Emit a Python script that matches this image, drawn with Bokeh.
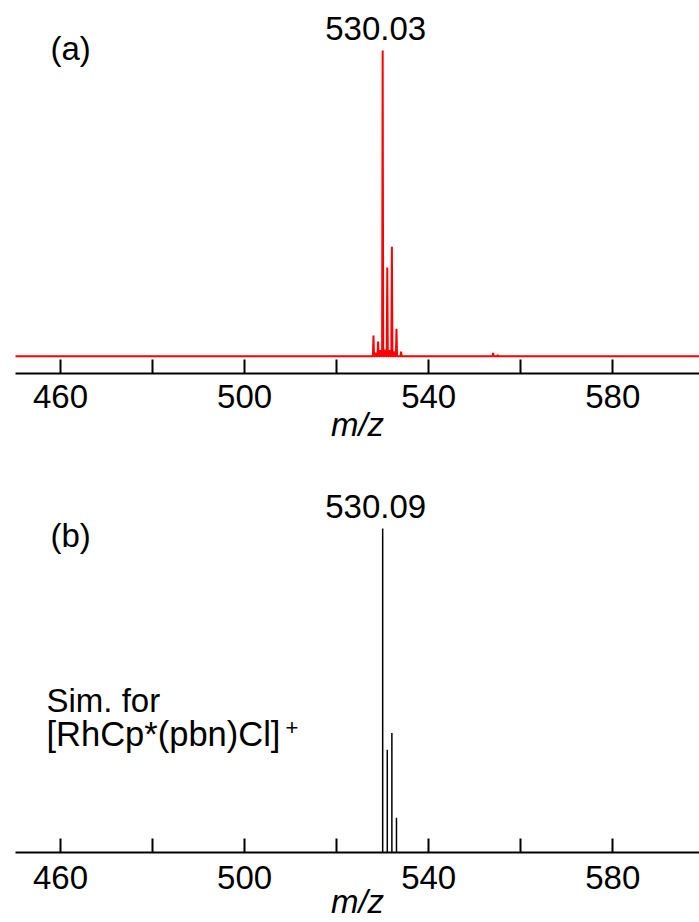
from bokeh.plotting import figure
from bokeh.layouts import column
from bokeh.models import Range1d, FixedTicker
from bokeh.core.properties import value
from bokeh.embed import file_html
from bokeh.resources import INLINE

# ---- data ----
a_mz = [528.0, 528.5, 529.0, 529.5, 530.0, 530.5, 531.0, 531.5, 532.0, 532.5, 533.0, 534.0, 554.0, 555.0]
a_int = [6.8, 1.2, 4.8, 2.0, 100.0, 2.2, 29.0, 2.0, 35.8, 1.6, 9.0, 1.5, 1.1, 0.4]
b_mz = [530.0, 531.0, 532.0, 533.0]
b_int = [100.0, 31.7, 36.9, 10.7]
a_peak_label = "530.03"
b_peak_label = "530.09"
tick_values = [460, 480, 500, 520, 540, 560, 580, 600]
tick_labels = {460: "460", 480: "", 500: "500", 520: "", 540: "540", 560: "", 580: "580", 600: "600"}
x_label = "m/z"
panel_a = "(a)"
panel_b = "(b)"
sim_lines = ["Sim. for", "[RhCp*(pbn)Cl]"]
sim_sup = "+"
mz_min, mz_max = 450.0, 600.0

FONT = value("Liberation Sans")
FS = "33px"
X_RANGE = (450.22, 598.84)


def base_fig(height, y_range, border_bottom, label_standoff, axis_standoff):
    p = figure(width=699, height=height, x_range=Range1d(*X_RANGE), y_range=Range1d(*y_range),
               toolbar_location=None, output_backend="svg", y_axis_location=None,
               min_border_left=15, min_border_right=0, min_border_top=0,
               min_border_bottom=border_bottom)
    p.outline_line_color = None
    p.grid.visible = False
    p.background_fill_color = "white"
    p.border_fill_color = "white"
    ax = p.xaxis[0]
    ax.ticker = FixedTicker(ticks=tick_values)
    ax.major_label_overrides = tick_labels
    ax.minor_tick_line_color = None
    ax.major_tick_in = 14
    ax.major_tick_out = 0
    ax.major_tick_line_width = 2
    ax.axis_line_width = 2
    ax.major_tick_line_color = "black"
    ax.axis_line_color = "black"
    ax.major_label_text_font = "Liberation Sans"
    ax.major_label_text_font_size = FS
    ax.major_label_text_color = "black"
    ax.major_label_standoff = label_standoff
    ax.axis_label = x_label
    ax.axis_label_text_font = "Liberation Sans"
    ax.axis_label_text_font_size = "33px"
    ax.axis_label_text_font_style = "italic"
    ax.axis_label_text_color = "black"
    ax.axis_label_standoff = axis_standoff
    return p


# ---- panel (a): measured profile ----
lx = [mz_min]
ly = [0.0]
for m, h in sorted(zip(a_mz, a_int)):
    lx += [m - 0.12, m, m + 0.12]
    ly += [0.0, h, 0.0]
lx.append(mz_max)
ly.append(0.0)

p1 = base_fig(461, (-5.66, 116.36), 88, 11, -5)
p1.line(lx, ly, line_color="#ff0000", line_width=2)
top_a = max(a_int)
mz_a = a_mz[a_int.index(top_a)]
p1.text(x=[mz_a], y=[top_a], text=[a_peak_label], text_font=FONT, text_font_size=FS,
        text_align="center", text_baseline="alphabetic", x_offset=-7, y_offset=-22, text_color="black")
p1.text(x=[X_RANGE[0]], y=[top_a], text=[panel_a], text_font=FONT, text_font_size=FS,
        text_align="left", text_baseline="alphabetic", x_offset=35, y_offset=-2, text_color="black")

# ---- panel (b): simulated sticks ----
p2 = base_fig(461, (0, 120.68), 70, 13, -9)
p2.segment(x0=b_mz, y0=[0] * len(b_mz), x1=b_mz, y1=b_int, line_color="black", line_width=1.5)
top_b = max(b_int)
mz_b = b_mz[b_int.index(top_b)]
p2.text(x=[mz_b], y=[top_b], text=[b_peak_label], text_font=FONT, text_font_size=FS,
        text_align="center", text_baseline="alphabetic", x_offset=-7, y_offset=-22, text_color="black")
p2.text(x=[X_RANGE[0]], y=[top_b], text=[panel_b], text_font=FONT, text_font_size=FS,
        text_align="left", text_baseline="alphabetic", x_offset=35, y_offset=7, text_color="black")
p2.text(x=[X_RANGE[0]], y=[0], text=[sim_lines[0]], text_font=FONT, text_font_size=FS,
        text_align="left", text_baseline="alphabetic", x_offset=31, y_offset=-152, text_color="black")
p2.text(x=[X_RANGE[0]], y=[0], text=[sim_lines[1]], text_font=FONT, text_font_size="34.5px",
        text_align="left", text_baseline="alphabetic", x_offset=31, y_offset=-119, text_color="black")
p2.text(x=[X_RANGE[0]], y=[0], text=[sim_sup], text_font=FONT, text_font_size="22px",
        text_align="left", text_baseline="alphabetic", x_offset=270, y_offset=-125, text_color="black")

layout = column(p1, p2, spacing=0)
open("out.html", "w").write(file_html(layout, INLINE))
